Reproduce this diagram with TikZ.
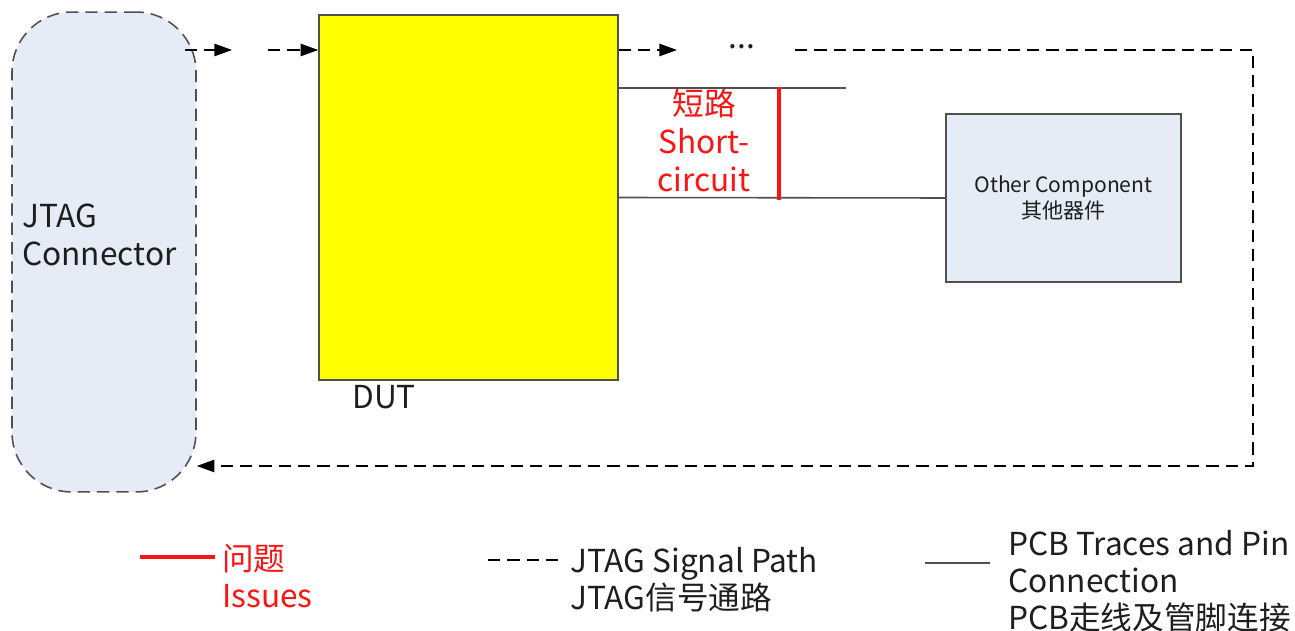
\documentclass[tikz,border=0pt]{standalone}
\usepackage{fontspec}
\setmainfont{Noto Sans CJK SC}
\usetikzlibrary{arrows.meta}
\definecolor{BoxBlue}{RGB}{230,236,246}
\definecolor{DutYellow}{RGB}{255,255,0}
\definecolor{LineGrey}{RGB}{80,80,80}
\definecolor{TextGrey}{RGB}{30,30,30}
\definecolor{IssueRed}{RGB}{250,20,20}

\begin{document}
\begin{tikzpicture}[
  x=0.02cm, y=-0.02cm,
  font=\fontsize{18}{21.5}\selectfont, text=TextGrey,
  box/.style={draw=LineGrey, line width=0.9pt, inner sep=0pt},
  connbox/.style={box, dash pattern=on 7pt off 4pt, fill=BoxBlue, rounded corners=34pt, minimum width=3.68cm, minimum height=9.6cm},
  dutbox/.style={box, fill=DutYellow, minimum width=5.98cm, minimum height=7.3cm},
  compbox/.style={box, fill=BoxBlue, minimum width=4.7cm, minimum height=3.36cm, align=center, font=\fontsize{12}{14.7}\selectfont},
  sigline/.style={black, line width=0.9pt, dash pattern=on 7pt off 4pt},
  sig/.style={sigline, -{Triangle[length=10pt, width=7pt]}},
  trace/.style={LineGrey, line width=0.9pt},
  issue/.style={IssueRed, line width=2.4pt},
  txt/.style={inner sep=0pt, align=left, anchor=north west},
  legendtxt/.style={txt, font=\fontsize{18}{21}\selectfont}
]
\useasboundingbox (0,0) rectangle (1295,631);

% Components
\node[connbox] (jtag) at (104,252) {};
\node[txt] (jtagtxt) at (22,204) {JTAG\\Connector};
\node[dutbox] (dut) at (468.5,197.5) {};
\node[txt] (duttxt) at (352,385) {DUT};
\node[compbox] (comp) at (1063.5,198) {Other Component\\其他器件};

% JTAG signal path
\coordinate (s0) at (185,50);
\coordinate (s1) at (232,50);
\coordinate (s2) at (268,50);
\coordinate (s3) at (677,50);
\coordinate (s4) at (795,50);
\coordinate (s5) at (1253,466);
\draw[sig] (s0) -- (s1);
\draw[sig] (s2) -- (s2 -| dut.west);
\draw[sig] (s3 -| dut.east) -- (s3);
\node (dots) at (742,47) {...};
\draw[sig] (s4) -| (s5) -- (s5 -| jtag.east);

% PCB traces
\coordinate (t1) at (846,88);
\draw[trace] (t1 -| dut.east) -- (t1);
\draw[trace] (dut.east) -- (comp.west);

% Short circuit
\coordinate (r1) at (779,87);
\coordinate (r2) at (779,200);
\draw[issue] (r1) -- (r2);
\node[txt, anchor=north, align=center, text=IssueRed] (short) at (704,89) {短路\\Short-\\circuit};

% Legend
\coordinate (l1) at (140,557);
\coordinate (l2) at (215,557);
\draw[issue] (l1) -- (l2);
\node[legendtxt, text=IssueRed] (lgissue) at (222,544) {问题\\Issues};
\coordinate (l3) at (488,560);
\coordinate (l4) at (560,560);
\draw[sigline] (l3) -- (l4);
\node[legendtxt] (lgsig) at (570,547) {JTAG Signal Path\\JTAG信号通路};
\coordinate (l5) at (925,563);
\coordinate (l6) at (990,563);
\draw[trace] (l5) -- (l6);
\node[legendtxt] (lgpcb) at (1008,530) {PCB Traces and Pin\\Connection\\PCB走线及管脚连接};
\end{tikzpicture}
\end{document}
